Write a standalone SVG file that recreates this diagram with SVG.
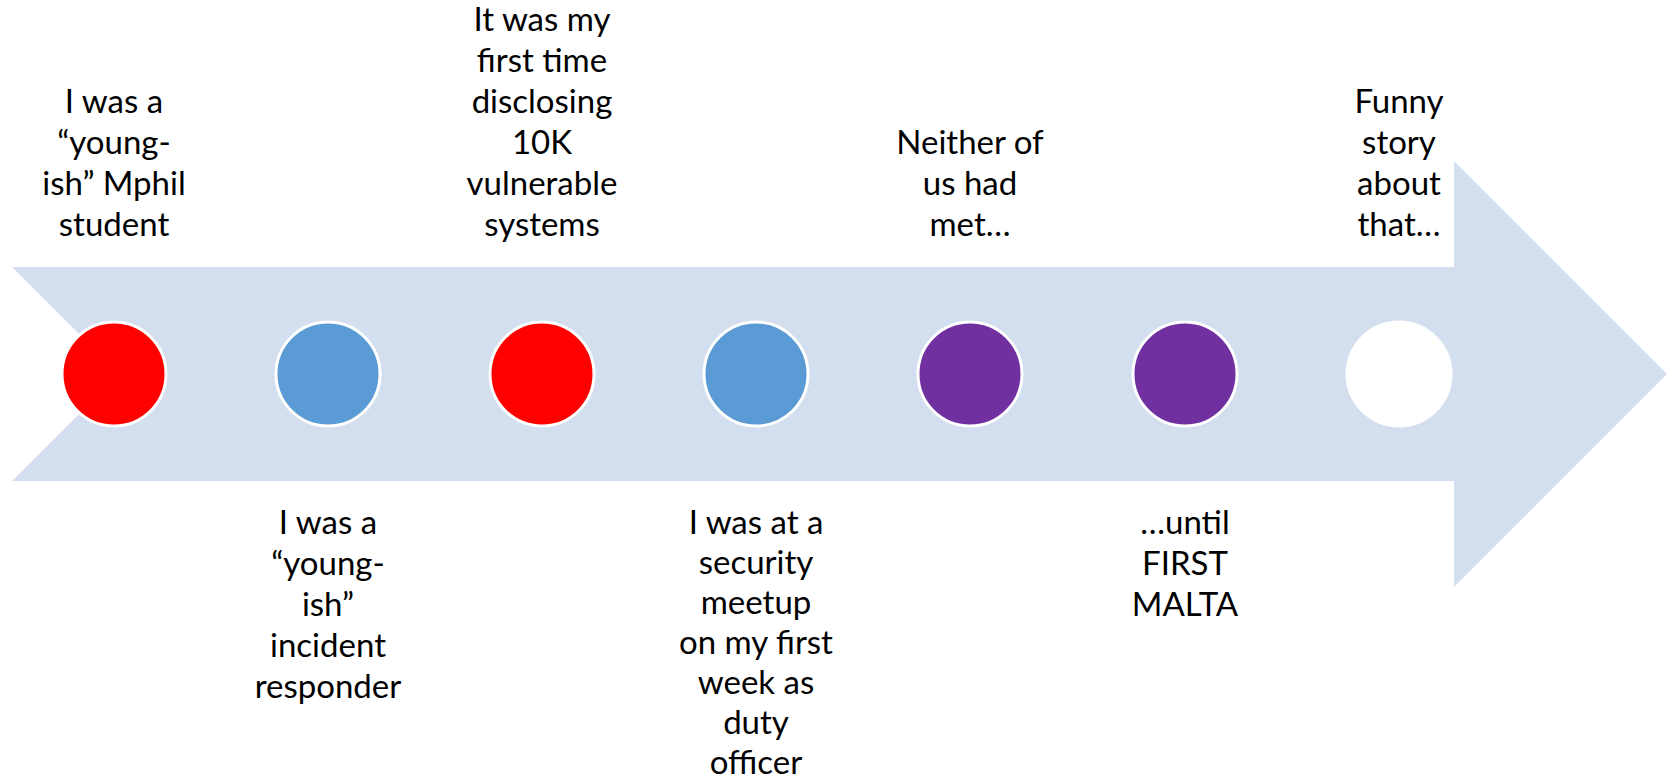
<svg xmlns="http://www.w3.org/2000/svg" width="1675" height="782" viewBox="0 0 1675 782">
<style>
  .lbl { font-family: Lato, "Liberation Sans", sans-serif; font-size: 33px; fill: #000; text-anchor: middle; }
  .dot { stroke: #FFFFFF; stroke-width: 3; }
</style>
<rect width="1675" height="782" fill="#FFFFFF"/>
<g id="connectors">
  <polygon id="timeline-arrow" points="12,267 1454,267 1454,161 1667,374 1454,587 1454,481 12,481 119,374" fill="#D3DEEF"/>
</g>
<g id="node1">
  <circle class="dot" cx="114" cy="374" r="52" fill="#FF0000"/>
  <text class="lbl" x="114" y="113">I was a</text>
  <text class="lbl" x="114" y="154">“young-</text>
  <text class="lbl" x="114" y="195">ish”  Mphil</text>
  <text class="lbl" x="114" y="236">student</text>
</g>
<g id="node2">
  <circle class="dot" cx="328" cy="374" r="52" fill="#5B9BD5"/>
  <text class="lbl" x="328" y="534">I was a</text>
  <text class="lbl" x="328" y="575">“young-</text>
  <text class="lbl" x="328" y="616">ish”</text>
  <text class="lbl" x="328" y="657">incident</text>
  <text class="lbl" x="328" y="698">responder</text>
</g>
<g id="node3">
  <circle class="dot" cx="542" cy="374" r="52" fill="#FF0000"/>
  <text class="lbl" x="542" y="31">It was my</text>
  <text class="lbl" x="542" y="72">first time</text>
  <text class="lbl" x="542" y="113">disclosing</text>
  <text class="lbl" x="542" y="154">10K</text>
  <text class="lbl" x="542" y="195">vulnerable</text>
  <text class="lbl" x="542" y="236">systems</text>
</g>
<g id="node4">
  <circle class="dot" cx="756" cy="374" r="52" fill="#5B9BD5"/>
  <text class="lbl" x="756" y="534">I was at a</text>
  <text class="lbl" x="756" y="574">security</text>
  <text class="lbl" x="756" y="614">meetup</text>
  <text class="lbl" x="756" y="654">on  my first</text>
  <text class="lbl" x="756" y="694">week as</text>
  <text class="lbl" x="756" y="734">duty</text>
  <text class="lbl" x="756" y="774">officer</text>
</g>
<g id="node5">
  <circle class="dot" cx="970" cy="374" r="52" fill="#7030A0"/>
  <text class="lbl" x="970" y="154">Neither of</text>
  <text class="lbl" x="970" y="195">us had</text>
  <text class="lbl" x="970" y="236">met…</text>
</g>
<g id="node6">
  <circle class="dot" cx="1185" cy="374" r="52" fill="#7030A0"/>
  <text class="lbl" x="1185" y="534">…until</text>
  <text class="lbl" x="1185" y="575">FIRST</text>
  <text class="lbl" x="1185" y="616">MALTA</text>
</g>
<g id="node7">
  <circle class="dot" cx="1399" cy="374" r="52" fill="#FFFFFF"/>
  <text class="lbl" x="1399" y="113">Funny</text>
  <text class="lbl" x="1399" y="154">story</text>
  <text class="lbl" x="1399" y="195">about</text>
  <text class="lbl" x="1399" y="236">that…</text>
</g>
</svg>
